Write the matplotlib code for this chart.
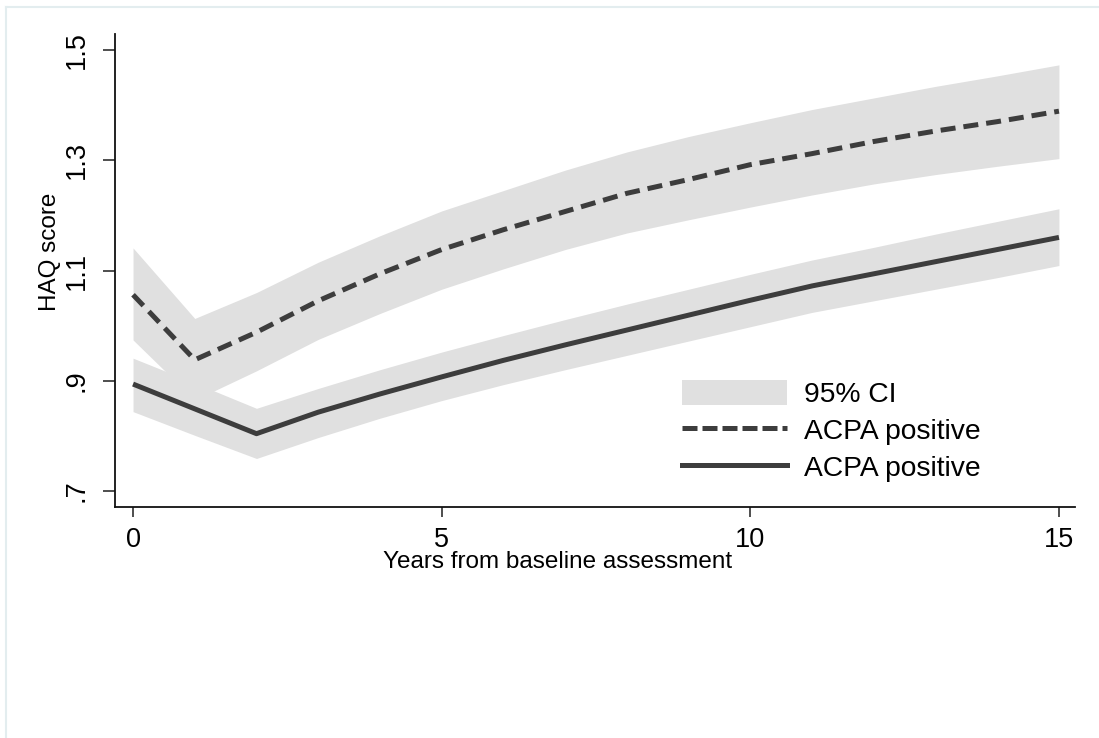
import matplotlib
matplotlib.use("Agg")
import matplotlib.pyplot as plt
from matplotlib.lines import Line2D
from matplotlib.patches import Patch

plt.rcParams['font.family'] = ['Liberation Sans', 'DejaVu Sans']

# data
years = list(range(16))

dash_mean = [1.056, 0.938, 0.988, 1.045, 1.094, 1.138, 1.174, 1.207, 1.240,
             1.265, 1.292, 1.312, 1.334, 1.353, 1.370, 1.389]
dash_upper = [1.141, 1.013, 1.060, 1.115, 1.163, 1.208, 1.245, 1.282, 1.315,
              1.343, 1.368, 1.392, 1.413, 1.434, 1.453, 1.473]
dash_lower = [0.974, 0.865, 0.918, 0.975, 1.022, 1.066, 1.103, 1.138, 1.168,
              1.192, 1.215, 1.237, 1.257, 1.274, 1.289, 1.303]

solid_mean = [0.894, 0.849, 0.804, 0.843, 0.876, 0.907, 0.937, 0.965, 0.992,
              1.019, 1.046, 1.072, 1.094, 1.116, 1.138, 1.160]
solid_upper = [0.941, 0.896, 0.850, 0.886, 0.920, 0.952, 0.982, 1.011, 1.039,
               1.066, 1.093, 1.119, 1.142, 1.166, 1.189, 1.212]
solid_lower = [0.844, 0.801, 0.759, 0.797, 0.832, 0.864, 0.893, 0.920, 0.946,
               0.972, 0.998, 1.024, 1.045, 1.066, 1.087, 1.109]

legend_labels = ['95% CI', 'ACPA positive', 'ACPA positive']
xticks = [0, 5, 10, 15]
yticks = [0.7, 0.9, 1.1, 1.3, 1.5]
ytick_labels = ['.7', '.9', '1.1', '1.3', '1.5']

W, H = 1099, 738
line_col = '#3d3d3d'
ci_col = '#e0e0e0'
fs_tick = 19.5
fs_title = 17.5
fs_leg = 20.3

fig = plt.figure(figsize=(W / 100, H / 100), dpi=100)
ax = fig.add_axes([114.7 / W, 1 - 507 / H, (1075 - 114.7) / W, (507 - 34) / H])

ax.fill_between(years, dash_lower, dash_upper, color=ci_col, lw=0)
ax.fill_between(years, solid_lower, solid_upper, color=ci_col, lw=0)
ax.plot(years, dash_mean, color=line_col, lw=3.6, dashes=(3.0, 1.6))
ax.plot(years, solid_mean, color=line_col, lw=3.6, solid_capstyle='butt')

ax.set_xlim(-0.297, 15.26)
ax.set_ylim(0.671, 1.529)
ax.set_xticks(xticks)
ax.set_xticklabels([str(t) for t in xticks], fontsize=fs_tick)
ax.set_yticks(yticks)
ax.set_yticklabels(ytick_labels, fontsize=fs_tick, rotation=90, va='center')
ax.tick_params(axis='y', length=9, width=1.2, color='#303030', pad=9)
ax.tick_params(axis='x', length=7.5, width=1.2, color='#303030', pad=7)

for s in ['top', 'right']:
    ax.spines[s].set_visible(False)
for s in ['left', 'bottom']:
    ax.spines[s].set_linewidth(1.3)
    ax.spines[s].set_color('#111111')

fig.text(558 / W, 1 - 562 / H, 'Years from baseline assessment', fontsize=fs_title,
         ha='center', va='center')
fig.text(50 / W, 1 - 252 / H, 'HAQ score', fontsize=fs_title, rotation=90,
         ha='center', va='center')

handles = [Patch(facecolor=ci_col, edgecolor='none'),
           Line2D([], [], color=line_col, lw=3.6, dashes=(3.0, 1.0)),
           Line2D([], [], color=line_col, lw=3.6)]
ax.legend(handles, legend_labels, loc='upper left',
          bbox_to_anchor=(682 / W, 1 - 380 / H), bbox_transform=fig.transFigure,
          frameon=False, fontsize=fs_leg, borderpad=0, borderaxespad=0,
          handlelength=3.72, handleheight=0.96, handletextpad=0.6,
          labelspacing=0.33)

# faint outer border (top and left only, as in the cropped original)
fig.add_artist(Line2D([6 / W, 1], [1 - 7 / H, 1 - 7 / H], color='#e3edef', lw=1.5))
fig.add_artist(Line2D([6 / W, 6 / W], [0, 1 - 7 / H], color='#e3edef', lw=1.5))

fig.savefig('out.png', dpi=100, facecolor='white')
